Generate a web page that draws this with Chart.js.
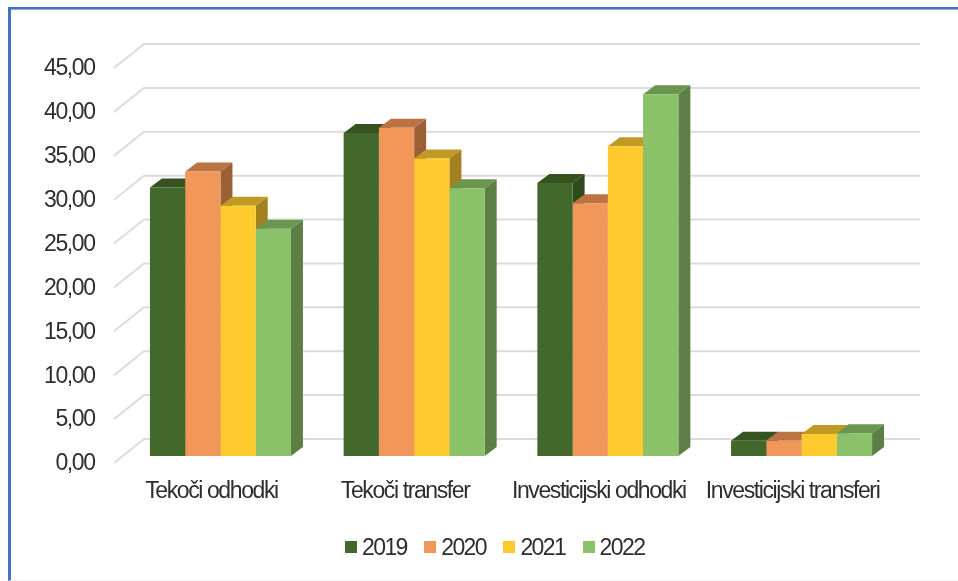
<!DOCTYPE html>
<html>
<head>
<meta charset="utf-8">
<style>
  html, body { margin: 0; padding: 0; background: #fff; overflow: hidden; }
  #wrap { position: relative; width: 958px; height: 581px; }
  #frame { position: absolute; left: 8px; top: 7px; right: 0; bottom: 0; border-top: 2px solid #4472c4; border-left: 3px solid #4472c4; border-bottom: 1px solid #eef0f4; box-shadow: inset 0 1px 0 #8fabe0; }
  #chart { position: absolute; left: 0; top: 0; }
  #legend { position: absolute; left: 345px; top: 533px; display: flex; font: 23px "Liberation Sans", sans-serif; letter-spacing: -1.6px; color: #2e2e2e; line-height: 28px; }
  #legend div { display: flex; align-items: center; width: 79.2px; }
  #legend i { display: block; width: 12px; height: 12px; margin-right: 5px; }
</style>
</head>
<body>
<div id="wrap">
  <div id="frame"></div>
  <canvas id="chart" width="958" height="581"></canvas>
  <div id="legend"></div>
</div>
<script src="https://cdn.jsdelivr.net/npm/chart.js@4"></script>
<script>
const categories = ['Tekoči odhodki', 'Tekoči transfer', 'Investicijski odhodki', 'Investicijski transferi'];
const years = ['2019', '2020', '2021', '2022'];
const values2019 = [30.6, 36.8, 31.1, 1.75];
const values2020 = [32.4, 37.4, 28.8, 1.75];
const values2021 = [28.5, 33.9, 35.3, 2.5];
const values2022 = [25.9, 30.5, 41.2, 2.6];

const faceColors = ['#43682b', '#f19759', '#ffca2e', '#8bc168'];
const topColors = ['#35521f', '#bb7343', '#c09a24', '#6a9650'];
const sideColors = ['#2e4a1c', '#9c6036', '#a38020', '#5b7f45'];

const FONT = '"Liberation Sans", sans-serif';
const BAR_DX = 12;
const BAR_DY = 9;

function poly(ctx, pts, color) {
  ctx.fillStyle = color;
  ctx.beginPath();
  pts.forEach((p, i) => (i ? ctx.lineTo(p[0], p[1]) : ctx.moveTo(p[0], p[1])));
  ctx.closePath();
  ctx.fill();
}

// the original text is a condensed face, none installed so tighten the spacing
const tightText = {
  id: 'tightText',
  beforeDraw(chart) {
    chart.ctx.letterSpacing = '-1.4px';
  }
};

// back wall lines and the slanted bit on the left side wall
const wallGrid = {
  id: 'wallGrid',
  beforeDatasetsDraw(chart) {
    const { ctx, chartArea, scales } = chart;
    ctx.save();
    ctx.strokeStyle = '#dcdcdc';
    ctx.lineWidth = 2;
    scales.y.ticks.forEach(t => {
      const y = scales.y.getPixelForValue(t.value);
      ctx.beginPath();
      ctx.moveTo(chartArea.left - 9.6, y + 7);
      ctx.lineTo(chartArea.left + 20.4, y - 17);
      ctx.lineTo(chartArea.right + 21.6, y - 17);
      ctx.stroke();
    });
    ctx.restore();
  }
};

// fake 3d: sides and tops left to right, the front faces then land on top of them
const barDepth = {
  id: 'barDepth',
  beforeDatasetsDraw(chart) {
    const { ctx } = chart;
    ctx.save();
    chart.data.datasets.forEach((ds, i) => {
      chart.getDatasetMeta(i).data.forEach(bar => {
        const p = bar.getProps(['x', 'y', 'base', 'width'], true);
        const x0 = p.x - p.width / 2;
        const x1 = p.x + p.width / 2;
        poly(ctx, [[x1, p.y], [x1 + BAR_DX, p.y - BAR_DY], [x1 + BAR_DX, p.base - BAR_DY], [x1, p.base]], sideColors[i]);
        poly(ctx, [[x0, p.y], [x0 + BAR_DX, p.y - BAR_DY], [x1 + BAR_DX, p.y - BAR_DY], [x1, p.y]], topColors[i]);
      });
    });
    ctx.restore();
  }
};

const series = [values2019, values2020, values2021, values2022];

const chart = new Chart(document.getElementById('chart'), {
  type: 'bar',
  data: {
    labels: categories,
    datasets: years.map((year, i) => ({
      label: year,
      data: series[i],
      backgroundColor: faceColors[i],
      borderWidth: 0,
      categoryPercentage: 0.728,
      barPercentage: 1,
    })),
  },
  options: {
    responsive: false,
    animation: false,
    layout: { padding: { left: 0, right: 59.6, top: 61, bottom: 0 } },
    plugins: { legend: { display: false }, tooltip: { enabled: false } },
    scales: {
      x: {
        afterFit: s => { s.height = 125; },
        grid: { display: false, drawTicks: false },
        border: { display: false },
        ticks: {
          autoSkip: false,
          maxRotation: 0,
          padding: 22,
          labelOffset: -9,
          color: '#2e2e2e',
          font: { family: FONT, size: 23 },
        },
      },
      y: {
        min: 0,
        max: 45,
        afterFit: s => { s.width = 123.6; },
        grid: { display: false, drawTicks: false },
        border: { display: false },
        ticks: {
          stepSize: 5,
          padding: 29,
          labelOffset: 8,
          color: '#2e2e2e',
          font: { family: FONT, size: 23 },
          callback: v => v.toFixed(2).replace('.', ','),
        },
      },
    },
  },
  plugins: [tightText, wallGrid, barDepth],
});

// legend gap in the original is tighter than the built-in one allows
const legendEl = document.getElementById('legend');
chart.data.datasets.forEach(ds => {
  const item = document.createElement('div');
  const box = document.createElement('i');
  box.style.background = ds.backgroundColor;
  item.appendChild(box);
  item.appendChild(document.createTextNode(ds.label));
  legendEl.appendChild(item);
});
</script>
</body>
</html>
